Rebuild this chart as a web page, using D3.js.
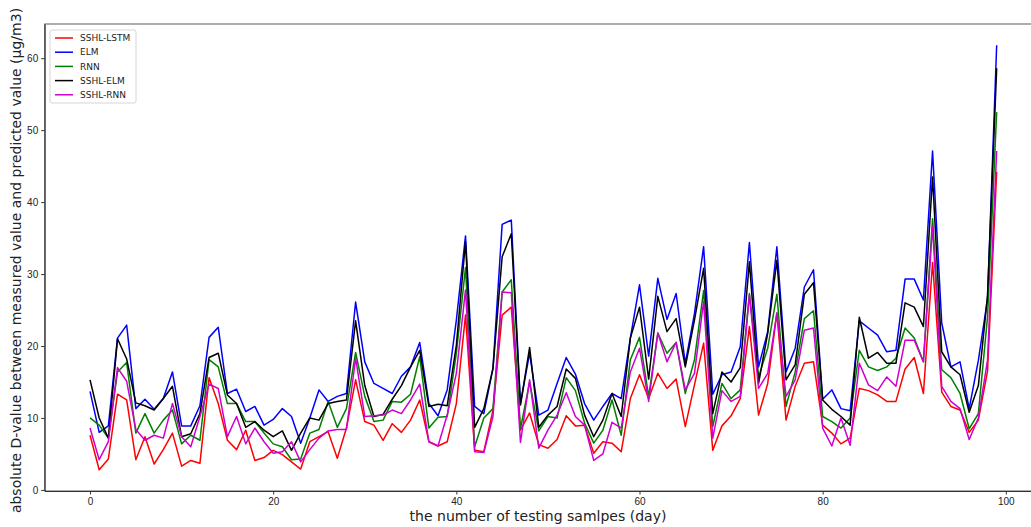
<html>
<head>
<meta charset="utf-8">
<script src="https://d3js.org/d3.v7.min.js"></script>
<style>
  body { margin: 0; background: #fff; }
  svg { font-family: "DejaVu Sans", sans-serif; }
  .tick text { font-size: 10px; fill: #222; }
  .tick line, .domain { stroke: #333; }
</style>
</head>
<body>
<svg width="1031" height="527"></svg>
<script>
// series names (legend order = draw order)
var seriesNames = ["SSHL-LSTM", "ELM", "RNN", "SSHL-ELM", "SSHL-RNN"];
var seriesColors = ["#ff0000", "#0000ff", "#008000", "#000000", "#d000d0"];

// day 0..99
var sshlLstm = [7.6,2.8,4.3,13.3,12.5,4.2,7.4,3.6,5.6,7.9, 3.3,4.1,3.7,15.6,12.0,6.9,5.6,8.3,4.1,4.5,
  5.5,4.9,3.9,2.9,6.7,7.4,8.1,4.4,8.6,15.3, 9.5,9.0,6.9,9.2,8.0,9.7,12.5,6.7,6.1,6.7,
  12.0,24.3,5.5,5.3,11.1,24.3,25.4,8.3,10.7,6.3, 5.8,7.0,10.3,8.9,9.0,5.1,6.7,6.5,5.3,12.7,
  16.0,12.7,16.2,14.1,15.4,8.8,14.6,20.4,5.5,8.9, 10.3,12.7,22.7,10.4,14.8,24.6,9.7,14.4,17.6,17.8,
  9.0,7.9,6.4,7.2,14.1,13.8,13.2,12.3,12.3,16.8, 18.4,13.4,31.6,13.6,11.6,11.1,8.0,9.7,16.5,44.2];
var elm = [13.7,8.0,8.9,21.1,22.9,11.3,12.6,11.2,12.7,16.4, 8.9,8.9,11.7,21.2,22.6,13.4,14.0,10.9,11.6,9.0,
  9.8,11.3,10.2,6.5,10.0,13.9,12.3,13.0,13.4,26.1, 17.8,14.8,14.1,13.4,15.8,17.1,20.5,12.0,10.3,13.9,
  23.6,35.3,11.6,10.6,16.9,36.9,37.5,12.0,19.0,10.4, 11.1,14.8,18.4,16.1,12.0,9.7,11.6,13.4,12.7,21.1,
  28.5,18.6,29.4,23.7,27.3,17.6,24.5,33.8,13.3,16.0, 16.4,19.9,34.4,17.1,22.0,33.8,16.4,19.7,28.2,30.6,
  12.6,13.9,11.3,11.0,23.5,22.5,21.5,19.2,19.4,29.3, 29.3,26.4,47.1,23.2,17.1,17.8,11.3,18.0,26.5,61.8];
var rnn = [10.0,9.0,7.2,16.4,17.7,7.9,10.6,7.9,9.7,11.1, 6.4,7.6,6.9,18.1,17.1,12.0,12.0,9.5,9.5,7.9,
  6.4,6.0,4.2,4.3,7.9,8.4,12.3,8.7,11.3,19.1, 13.0,9.5,9.7,12.3,12.2,13.3,18.5,8.6,10.1,10.2,
  19.0,30.9,6.0,10.0,11.3,27.5,29.2,8.5,15.0,8.2, 10.2,10.0,15.6,13.8,9.3,6.5,8.3,12.5,7.6,18.1,
  21.2,13.0,21.8,19.0,20.5,13.4,18.1,27.7,8.8,14.8, 12.7,13.9,27.3,15.7,19.7,27.2,11.6,16.4,23.8,24.9,
  10.2,9.5,8.6,10.0,19.4,17.1,16.6,17.1,18.3,22.5, 21.1,17.8,37.7,16.7,15.6,13.4,8.5,10.6,24.0,52.5];
var sshlElm = [15.3,10.0,7.2,21.0,18.2,12.1,11.7,11.1,12.7,14.4, 7.4,7.8,10.6,18.4,19.0,13.2,12.0,8.7,9.5,8.3,
  7.4,8.2,5.5,7.9,10.0,9.7,12.0,12.3,12.5,23.5, 14.5,10.2,10.5,12.6,14.5,17.1,19.4,11.6,11.9,11.7,
  20.1,34.5,8.7,11.3,16.9,32.4,35.6,11.8,19.8,8.7, 10.4,11.6,16.8,15.5,10.4,7.4,9.7,13.4,10.2,21.1,
  25.4,15.4,26.9,22.0,23.8,17.1,23.6,30.8,10.6,16.4, 15.0,17.0,31.7,14.8,21.8,31.9,15.3,17.4,27.2,28.8,
  12.5,11.2,10.2,9.0,24.0,18.3,19.1,17.6,17.6,26.0, 25.4,22.7,43.5,19.2,17.1,16.0,10.8,14.5,27.0,58.6];
var sshlRnn = [8.6,4.2,6.7,17.0,15.1,8.4,6.9,7.6,7.2,12.0, 7.4,6.0,10.2,14.7,14.1,7.4,10.2,6.4,8.6,6.7,
  5.1,5.3,6.7,3.9,5.6,7.2,8.2,8.4,8.4,18.3, 10.2,10.3,10.4,11.1,10.6,12.5,14.7,6.7,6.1,10.4,
  16.2,27.8,5.3,5.2,10.2,27.5,27.4,6.6,15.3,5.8, 8.3,10.4,13.5,10.2,9.0,4.1,5.0,9.4,8.6,16.4,
  19.7,12.3,21.8,17.8,20.5,13.9,16.2,26.2,7.2,13.8, 12.3,13.0,27.1,14.1,16.2,24.6,13.0,15.3,22.2,22.5,
  8.6,6.1,10.0,6.2,17.6,14.6,13.8,15.7,14.4,20.8, 20.8,17.8,36.6,14.4,12.3,11.3,7.0,10.0,18.0,47.1];

var seriesValues = [sshlLstm, elm, rnn, sshlElm, sshlRnn];
var xTicks = [0, 20, 40, 60, 80, 100];
var yTicks = [0, 10, 20, 30, 40, 50, 60];

var svg = d3.select("svg");
var plotLeft = 44.7, plotRight = 1042, plotTop = 24, plotBottom = 491;

var days = d3.range(sshlLstm.length);
var allVals = d3.merge(seriesValues);
var yMin = d3.min(allVals), yMax = d3.max(allVals);
var yPad = (yMax - yMin) * 0.05;
var xPad = (days.length - 1) * 0.05;

var xScale = d3.scaleLinear().domain([-xPad, days.length - 1 + xPad]).range([plotLeft, plotRight]);
var yScale = d3.scaleLinear().domain([yMin - yPad, yMax + yPad]).range([plotBottom, plotTop]);

// lines
var line = d3.line().x((d, i) => xScale(i)).y(d => yScale(d));
svg.append("g").selectAll("path")
  .data(seriesValues).enter().append("path")
    .attr("d", d => line(d))
    .attr("fill", "none")
    .attr("stroke", (d, i) => seriesColors[i])
    .attr("stroke-width", 1.5)
    .attr("stroke-linejoin", "round");

// axes
svg.append("g")
  .attr("transform", "translate(0," + plotBottom + ")")
  .call(d3.axisBottom(xScale).tickValues(xTicks).tickSize(3.5).tickPadding(3).tickSizeOuter(0));
svg.append("g")
  .attr("transform", "translate(" + plotLeft + ",0)")
  .call(d3.axisLeft(yScale).tickValues(yTicks).tickSize(3.5).tickPadding(3).tickSizeOuter(0));

// frame
svg.append("rect")
  .attr("x", plotLeft).attr("y", plotTop)
  .attr("width", plotRight - plotLeft).attr("height", plotBottom - plotTop)
  .attr("fill", "none").attr("stroke", "#333").attr("stroke-width", 0.8);

// axis labels
svg.append("text")
  .attr("x", 538).attr("y", 521)
  .style("text-anchor", "middle").style("font-size", "14px").style("fill", "#222")
  .text("the number of testing samlpes (day)");
svg.append("text")
  .attr("transform", "translate(21," + ((plotTop + plotBottom) / 2 + 3) + ") rotate(-90)")
  .style("text-anchor", "middle").style("font-size", "14px").style("fill", "#222")
  .text("absolute D-value between measured value and predicted value (μg/m3)");

// legend
var legend = svg.append("g").attr("transform", "translate(50,30)");
legend.append("rect")
  .attr("width", 86).attr("height", 73).attr("rx", 2)
  .attr("fill", "#fff").attr("fill-opacity", 0.8)
  .attr("stroke", "#ccc").attr("stroke-width", 0.8);
var items = legend.selectAll("g.item")
  .data(seriesNames).enter().append("g")
    .attr("class", "item")
    .attr("transform", (d, i) => "translate(0," + (8 + i * 14.2) + ")");
items.append("line")
  .attr("x1", 5).attr("x2", 23)
  .attr("stroke", (d, i) => seriesColors[i]).attr("stroke-width", 1.5);
items.append("text")
  .attr("x", 30).attr("y", 0)
  .attr("dy", "0.35em")
  .style("font-size", "9px").style("fill", "#222")
  .text(d => d);
</script>
</body>
</html>
